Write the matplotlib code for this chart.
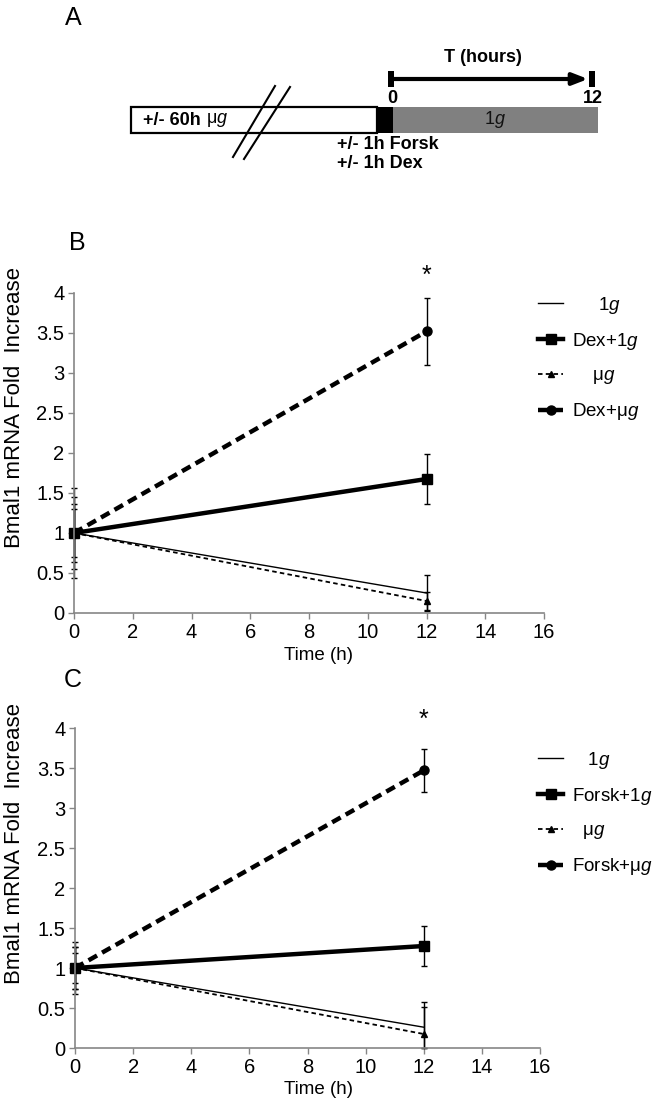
import numpy as np
import matplotlib
matplotlib.use('Agg')
import matplotlib.pyplot as plt
from matplotlib.patches import Rectangle

plt.rcParams['font.family'] = ['Liberation Sans', 'DejaVu Sans']
plt.rcParams['mathtext.fontset'] = 'custom'
plt.rcParams['mathtext.rm'] = 'Liberation Sans'
plt.rcParams['mathtext.it'] = 'Liberation Sans:italic'
plt.rcParams['mathtext.bf'] = 'Liberation Sans:bold'

# ---------------- data ----------------
time_h = [0, 12]
x_ticks = [0, 2, 4, 6, 8, 10, 12, 14, 16]
y_ticks = [0, 0.5, 1, 1.5, 2, 2.5, 3, 3.5, 4]

b_labels = ["     1$g$", "Dex+1$g$", "    μ$g$", "Dex+μ$g$"]
b_1g = [1.0, 0.25]
b_1g_err = [0.36, 0.22]
b_dex1g = [1.0, 1.675]
b_dex1g_err = [0.45, 0.315]
b_ug = [1.0, 0.15]
b_ug_err = [0.30, 0.11]
b_dexug = [1.0, 3.52]
b_dexug_err = [0.56, 0.42]

c_labels = ["   1$g$", "Forsk+1$g$", "  μ$g$", "Forsk+μ$g$"]
c_1g = [1.0, 0.26]
c_1g_err = [0.26, 0.315]
c_fk1g = [1.0, 1.275]
c_fk1g_err = [0.32, 0.25]
c_ug = [1.0, 0.175]
c_ug_err = [0.19, 0.335]
c_fkug = [1.0, 3.47]
c_fkug_err = [0.26, 0.265]

W, H = 669, 1106
fig = plt.figure(figsize=(W / 100, H / 100), dpi=100)


def px_axes(left, top, right, bottom):
    return fig.add_axes([left / W, 1 - bottom / H, (right - left) / W, (bottom - top) / H])


# ---------------- panel A (schematic) ----------------
axA = fig.add_axes([0, 1 - 190 / H, 1, 190 / H])
axA.set_xlim(0, W)
axA.set_ylim(190, 0)
axA.axis('off')
axA.text(73, 18, "A", fontsize=18, ha='center', va='center')
axA.add_patch(Rectangle((131, 107), 246, 26, facecolor='white', edgecolor='black', lw=1.6))
axA.add_patch(Rectangle((377, 107), 16, 26, facecolor='black', edgecolor='black', lw=0))
axA.add_patch(Rectangle((393, 107), 205, 26, facecolor='#808080', edgecolor='#808080', lw=0))
axA.plot([233, 275], [157, 86], color='black', lw=1.5)
axA.plot([244, 290], [159, 87], color='black', lw=1.5)
t1 = axA.text(143, 121, "+/- 60h ", fontsize=13, fontweight='bold', ha='left', va='center')
axA.annotate("μ$g$", xy=(1, 0), xycoords=t1, ha='left', va='bottom', fontsize=13)
axA.text(495, 120, "1$g$", fontsize=13, ha='center', va='center', color='#111111')
axA.text(337, 145, "+/- 1h Forsk", fontsize=13, fontweight='bold', ha='left', va='center')
axA.text(337, 164, "+/- 1h Dex", fontsize=13, fontweight='bold', ha='left', va='center')
axA.text(483, 57, "T (hours)", fontsize=13, fontweight='bold', ha='center', va='center')
axA.add_patch(Rectangle((388, 71), 6, 16, facecolor='black', lw=0))
axA.add_patch(Rectangle((589, 71), 6, 16, facecolor='black', lw=0))
axA.annotate("", xy=(588, 79), xytext=(392, 79),
             arrowprops=dict(arrowstyle='-|>,head_length=0.9,head_width=0.35', lw=3, color='black',
                             shrinkA=0, shrinkB=0))
axA.text(392, 99, "0", fontsize=13, fontweight='bold', ha='center', va='center')
axA.text(593, 99, "12", fontsize=13, fontweight='bold', ha='center', va='center')


# ---------------- panels B & C ----------------
def style_axes(ax):
    ax.set_xlim(0, 16)
    ax.set_ylim(0, 4)
    ax.set_xticks(x_ticks)
    ax.set_yticks(y_ticks)
    ax.set_xticklabels([f"{v:g}" for v in x_ticks])
    ax.set_yticklabels([f"{v:g}" for v in y_ticks])
    for s in ['top', 'right']:
        ax.spines[s].set_visible(False)
    for s in ['left', 'bottom']:
        ax.spines[s].set_color('#868686')
        ax.spines[s].set_linewidth(1.2)
    ax.tick_params(direction='out', length=4, width=1.0, color='#868686', labelsize=14.5, pad=3)
    ax.patch.set_visible(False)


def series(ax, y, err, **kw):
    y = np.array(y)
    e = np.array(err)
    lower = np.minimum(e, y)
    cont = ax.errorbar(time_h, y, yerr=[lower, e], ecolor='black', elinewidth=1.0,
                       capsize=2.5, capthick=1.0, color='black', **kw)
    for art in [cont[0], *cont[1], *cont[2]]:
        art.set_clip_on(False)
    return cont[0]


def panel(ax, data, labels, leg_top, star_y):
    style_axes(ax)
    (y1, e1), (y2, e2), (y3, e3), (y4, e4) = data
    l1 = series(ax, y1, e1, linestyle='-', lw=1.0, marker=None)
    l2 = series(ax, y2, e2, linestyle='-', lw=3.2, marker='s', ms=7)
    l3 = series(ax, y3, e3, linestyle=(0, (2.5, 1.8)), lw=1.3, marker='^', ms=4.5)
    l4 = series(ax, y4, e4, linestyle=(0, (2.2, 1.3)), lw=3.2, marker='o', ms=6.5)
    ax.text(12, star_y, "*", fontsize=18, ha='center', va='center', clip_on=False)
    ax.legend([l1, l2, l3, l4], labels, loc='upper left',
              bbox_to_anchor=(538 / W, 1 - leg_top / H), bbox_transform=fig.transFigure,
              frameon=False, borderpad=0, borderaxespad=0, handlelength=1.35,
              handletextpad=0.45, labelspacing=0.8, fontsize=13.5)


axB = px_axes(74, 293, 544, 613)
panel(axB, [(b_1g, b_1g_err), (b_dex1g, b_dex1g_err), (b_ug, b_ug_err), (b_dexug, b_dexug_err)],
      b_labels, 295, 4.22)
axC = px_axes(75, 728, 540, 1048)
panel(axC, [(c_1g, c_1g_err), (c_fk1g, c_fk1g_err), (c_ug, c_ug_err), (c_fkug, c_fkug_err)],
      c_labels, 750, 4.1)

fig.text(77 / W, 1 - 243 / H, "B", fontsize=18, ha='center', va='center')
fig.text(73 / W, 1 - 680 / H, "C", fontsize=18, ha='center', va='center')
for yc in (408, 843):
    fig.text(15 / W, 1 - yc / H, "Bmal1 mRNA Fold  Increase", rotation=90,
             ha='center', va='center', fontsize=16)
for yc in (655, 1090):
    fig.text(318 / W, 1 - yc / H, "Time (h)", ha='center', va='center', fontsize=13.5)

fig.savefig("out.png", dpi=100)
